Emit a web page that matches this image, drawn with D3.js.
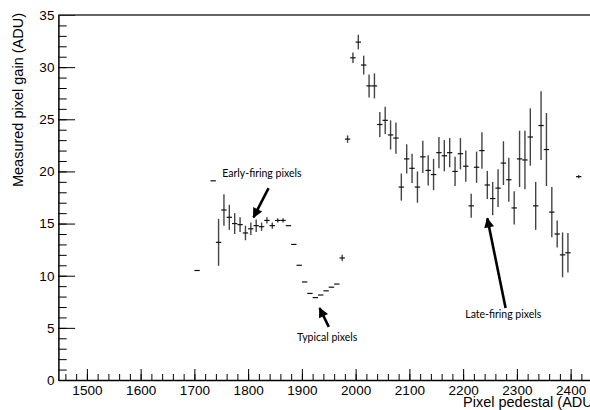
<!DOCTYPE html>
<html>
<head>
<meta charset="utf-8">
<script src="https://cdn.jsdelivr.net/npm/d3@7"></script>
<style>
  body { margin: 0; background: #fff; }
  svg { display: block; }
  .axis text { font-family: "Liberation Sans", Arial, sans-serif; font-size: 13.5px; fill: #000; }
  .axis path, .axis line { stroke: #000; }
  .title { font-family: "Liberation Sans", Arial, sans-serif; font-size: 14.5px; fill: #000; }
  .note { font-family: Lato, "Open Sans", sans-serif; font-size: 10.5px; fill: #000; }
</style>
</head>
<body>
<div class="chart"></div>
<script>
// bin centres of the pedestal histogram (ADU)
var pedestal = [1705, 1735, 1745, 1755, 1765, 1775, 1785, 1795, 1805, 1815,
  1825, 1835, 1845, 1855, 1865, 1875, 1885, 1895, 1905, 1915,
  1925, 1935, 1945, 1955, 1965, 1975, 1985, 1995, 2005, 2015,
  2025, 2035, 2045, 2055, 2065, 2075, 2085, 2095, 2105, 2115,
  2125, 2135, 2145, 2155, 2165, 2175, 2185, 2195, 2205, 2215,
  2225, 2235, 2245, 2255, 2265, 2275, 2285, 2295, 2305, 2315,
  2325, 2335, 2345, 2355, 2365, 2375, 2385, 2395, 2415];

var gain = [10.5, 19.1, 13.2, 16.3, 15.6, 15.0, 14.9, 14.1, 14.5, 14.8,
  14.7, 15.3, 14.8, 15.3, 15.3, 14.8, 13.0, 11.0, 9.4, 8.3,
  7.9, 8.15, 8.55, 8.9, 9.2, 11.7, 23.1, 30.9, 32.4, 30.2,
  28.2, 28.2, 24.5, 24.9, 23.5, 23.2, 18.5, 21.2, 20.3, 18.5,
  21.4, 20.1, 19.7, 21.8, 21.5, 21.8, 20.0, 21.7, 20.5, 16.7,
  20.4, 22.0, 18.7, 17.4, 18.4, 20.8, 19.2, 16.5, 21.2, 21.1,
  23.3, 16.7, 24.4, 22.1, 16.1, 14.0, 12.0, 12.2, 19.5];

var gainErr = [0, 0, 2.25, 1.5, 1.2, 1.0, 0.7, 0.7, 0.6, 0.6,
  0.4, 0.3, 0.3, 0.2, 0.2, 0.1, 0.05, 0.05, 0.05, 0.05,
  0.05, 0.05, 0.05, 0.05, 0.05, 0.3, 0.35, 0.5, 0.7, 0.9,
  1.1, 1.2, 1.2, 1.3, 1.4, 1.5, 1.3, 1.4, 1.4, 1.5,
  1.55, 1.45, 1.5, 1.5, 1.5, 1.4, 1.4, 1.5, 1.5, 1.15,
  1.5, 1.75, 1.35, 1.6, 1.8, 2.1, 2.1, 1.6, 2.7, 2.8,
  2.75, 2.3, 3.3, 3.5, 2.4, 1.3, 2.15, 1.9, 0.15];

var binHalf = 5;

var xTicks = [1500, 1600, 1700, 1800, 1900, 2000, 2100, 2200, 2300, 2400];
var yTicks = [0, 5, 10, 15, 20, 25, 30, 35];

// annotations, in data coordinates
var notes = [
  { text: "Early-firing pixels", x: 1752, y: 19.5, anchor: "start", from: [1838, 18.4], to: [1810, 15.6] },
  { text: "Typical pixels", x: 1947, y: 3.7, anchor: "middle", from: [1950, 5.1], to: [1933, 6.9] },
  { text: "Late-firing pixels", x: 2204, y: 5.95, anchor: "start", from: [2279, 6.9], to: [2245, 15.5] }
];

var svgWidth = 590;
var svgHeight = 410;

var svg = d3.select(".chart")
  .append("svg")
  .attr("width", svgWidth)
  .attr("height", svgHeight);

var x = d3.scaleLinear().domain([1447, 2450]).range([58.4, 597.5]);
var y = d3.scaleLinear().domain([0, 35]).range([380, 15]);

// minor ticks
var xMinor = d3.range(1460, 2450, 20);
var yMinor = d3.range(0, 35.5, 1);

svg.append("g")
  .attr("class", "axis")
  .attr("transform", `translate(0, ${y(0)})`)
  .call(d3.axisBottom(x).tickValues(xMinor).tickSize(-6).tickFormat(""))
  .call(g => g.select(".domain").remove());

svg.append("g")
  .attr("class", "axis")
  .attr("transform", `translate(${x(1447)}, 0)`)
  .call(d3.axisLeft(y).tickValues(yMinor).tickSize(-8.3).tickFormat(""))
  .call(g => g.select(".domain").remove());

// major axes
svg.append("g")
  .attr("class", "axis")
  .attr("transform", `translate(0, ${y(0)})`)
  .call(d3.axisBottom(x).tickValues(xTicks).tickFormat(d3.format("d"))
    .tickSizeInner(-11).tickSizeOuter(0).tickPadding(4))
  .call(g => g.selectAll("text").attr("y", 15).attr("dy", 0))
  .call(g => g.select(".domain").attr("stroke-width", 1.5));

svg.append("g")
  .attr("class", "axis")
  .attr("transform", `translate(${x(1447)}, 0)`)
  .call(d3.axisLeft(y).tickValues(yTicks).tickSizeInner(-16.7).tickSizeOuter(0).tickPadding(4))
  .call(g => g.select(".domain").attr("stroke-width", 1.5));

// top frame
svg.append("line")
  .attr("x1", x(1447)).attr("x2", x(2450))
  .attr("y1", y(35)).attr("y2", y(35))
  .attr("stroke", "#333").attr("stroke-width", 1.5);

// error bars
var pts = pedestal.map((p, i) => ({ p: p, g: gain[i], e: gainErr[i] }));

var bars = svg.append("g");
bars.selectAll("line.v")
  .data(pts.filter(d => d.e > 0.1))
  .enter()
  .append("line")
  .attr("class", "v")
  .attr("x1", d => x(d.p)).attr("x2", d => x(d.p))
  .attr("y1", d => y(d.g - d.e)).attr("y2", d => y(d.g + d.e))
  .attr("stroke", "#444").attr("stroke-width", 1.4);

bars.selectAll("line.h")
  .data(pts)
  .enter()
  .append("line")
  .attr("class", "h")
  .attr("x1", d => x(d.p - binHalf)).attr("x2", d => x(d.p + binHalf))
  .attr("y1", d => y(d.g)).attr("y2", d => y(d.g))
  .attr("stroke", "#111").attr("stroke-width", 1.2);

// axis titles
svg.append("text")
  .attr("class", "title")
  .attr("transform", "translate(23, 13) rotate(-90)")
  .attr("text-anchor", "end")
  .text("Measured pixel gain (ADU)");

svg.append("text")
  .attr("class", "title")
  .attr("x", 463)
  .attr("y", 407)
  .text("Pixel pedestal (ADU)");

// arrows + labels
svg.append("defs").append("marker")
  .attr("id", "head")
  .attr("viewBox", "0 0 10 10")
  .attr("refX", 9).attr("refY", 5)
  .attr("markerUnits", "userSpaceOnUse")
  .attr("markerWidth", 11).attr("markerHeight", 10)
  .attr("orient", "auto")
  .append("path")
  .attr("d", "M0,0 L10,5 L0,10 Z")
  .attr("fill", "#000");

notes.forEach(function(n) {
  svg.append("text")
    .attr("class", "note")
    .attr("x", x(n.x)).attr("y", y(n.y))
    .attr("text-anchor", n.anchor)
    .text(n.text);
  svg.append("line")
    .attr("x1", x(n.from[0])).attr("y1", y(n.from[1]))
    .attr("x2", x(n.to[0])).attr("y2", y(n.to[1]))
    .attr("stroke", "#000").attr("stroke-width", 2.6)
    .attr("marker-end", "url(#head)");
});
</script>
</body>
</html>
